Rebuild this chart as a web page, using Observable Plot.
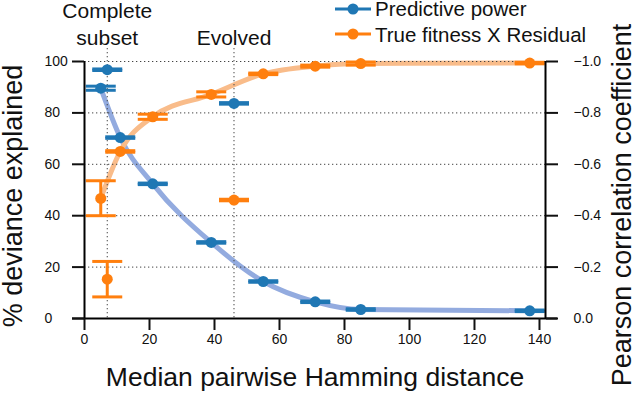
<!DOCTYPE html>
<html><head><meta charset="utf-8">
<script src="https://cdn.jsdelivr.net/npm/d3@7"></script>
<script src="https://cdn.jsdelivr.net/npm/@observablehq/plot@0.6"></script>
<style>
body{margin:0;background:#fff;font-family:"Liberation Sans",Arial,Helvetica,sans-serif;}
#wrap{position:relative;width:635px;height:404px;overflow:hidden;}
#legend{position:absolute;left:334px;top:-4px;font-size:20.5px;color:#111;line-height:25.5px;}
.row{display:flex;align-items:center;height:25.5px;white-space:nowrap;}
.row svg{margin-right:3px;}
</style></head><body><div id="wrap"></div>
<script>
// ---- data ----
const hamming      = [5, 7, 11, 21, 39, 46, 55, 71, 85, 137];
const subsetKind   = ["trend","complete","trend","trend","trend","evolved","trend","trend","trend","trend"];
const powerMean    = [89.6, 96.8, 70.4, 52.4, 29.6, 83.7, 14.4, 6.5, 3.5, 3.0];
const powerLow     = [88.8, 96.5, 70.1, 52.1, 29.3, 83.4, 14.1, 6.2, 3.2, 2.7];
const powerHigh    = [90.4, 97.1, 70.7, 52.7, 29.9, 84.0, 14.7, 6.8, 3.8, 3.3];
const pearsonMean  = [-0.467, -0.153, -0.650, -0.785, -0.872, -0.461, -0.952, -0.982, -0.992, -0.994];
const pearsonLow   = [-0.400, -0.084, -0.647, -0.775, -0.862, -0.458, -0.949, -0.978, -0.986, -0.991];
const pearsonHigh  = [-0.536, -0.222, -0.653, -0.795, -0.882, -0.464, -0.955, -0.986, -0.998, -0.997];
const xTicks        = [0, 20, 40, 60, 80, 100, 120, 140];
const devianceTicks = [0, 20, 40, 60, 80, 100];
const pearsonTicks  = [0.0, -0.2, -0.4, -0.6, -0.8, -1.0];
const markerLines   = [7, 46];
const markerLabels  = ["Complete\nsubset", "Evolved"];
const seriesNames   = ["Predictive power", "True fitness X Residual"];
const seriesColors  = ["#1f77b4", "#ff7f0e"];
const trendColors   = ["#93abdf", "#f9bc8a"];
const xLabel = "Median pairwise Hamming distance";
const yLabel = "% deviance explained";
const y2Label = "Pearson correlation coefficient";

// ---- build tables ----
const power = hamming.map((x, i) => ({x, y: powerMean[i], lo: powerLow[i], hi: powerHigh[i], kind: subsetKind[i]}));
const pearson = hamming.map((x, i) => ({x, y: -pearsonMean[i] * 100, lo: -pearsonLow[i] * 100, hi: -pearsonHigh[i] * 100, kind: subsetKind[i]}));
const xRight = 141.85;

const hline = {draw(ctx, size) { const w = Math.sqrt(size / Math.PI); ctx.moveTo(-w, 0); ctx.lineTo(w, 0); }};

function series(rows, k) {
  return [
    Plot.ruleX(rows, {x: "x", y1: "lo", y2: "hi", stroke: seriesColors[k], strokeWidth: 3}),
    Plot.dot(rows, {x: "x", y: "lo", symbol: hline, r: 15, stroke: seriesColors[k], strokeWidth: 3, fill: "none"}),
    Plot.dot(rows, {x: "x", y: "hi", symbol: hline, r: 15, stroke: seriesColors[k], strokeWidth: 3, fill: "none"}),
    Plot.dot(rows, {x: "x", y: "y", r: 5.5, fill: seriesColors[k], stroke: "none"})
  ];
}

const font = '"Liberation Sans", Arial, Helvetica, sans-serif';
const chart = Plot.plot({
  width: 635, height: 404,
  marginLeft: 84, marginRight: 90, marginTop: 61, marginBottom: 86,
  x: {domain: [0, xRight]},
  y: {domain: [0, 100]},
  style: {fontFamily: font, fontSize: "14px", color: "#111", background: "transparent", overflow: "visible"},
  marks: [
    Plot.line(power.filter(d => d.kind === "trend"), {x: "x", y: "y", stroke: trendColors[0], strokeWidth: 5, curve: "monotone-x"}),
    Plot.line(pearson.filter(d => d.kind === "trend"), {x: "x", y: "y", stroke: trendColors[1], strokeWidth: 5, curve: "monotone-x"}),
    Plot.ruleY(devianceTicks.filter(d => d > 0), {stroke: "#444", strokeWidth: 1, strokeDasharray: "1.3,2.7"}),
    Plot.ruleX(markerLines, {stroke: "#444", strokeWidth: 1, strokeDasharray: "1.3,2.7", insetTop: -13}),
    ...series(power, 0),
    ...series(pearson, 1),
    Plot.ruleX([0, xRight], {stroke: "#000", strokeWidth: 2}),
    Plot.ruleY([0], {stroke: "#000", strokeWidth: 2, insetLeft: -12, insetRight: -12}),
    Plot.axisX(xTicks, {tickSize: 12, tickPadding: 4, strokeWidth: 2, label: null, fontSize: 14}),
    Plot.axisY(devianceTicks, {anchor: "left", tickSize: 12, tickPadding: 28, textAnchor: "start", strokeWidth: 2, label: null, fontSize: 14}),
    Plot.axisY(pearsonTicks.map(t => -t * 100), {anchor: "right", tickSize: 12, tickPadding: 16, strokeWidth: 2, label: null, fontSize: 14,
      tickFormat: d => { const r = -d / 100; return Math.abs(r) < 1e-9 ? "0.0" : "\u2212" + Math.abs(r).toFixed(1); }}),
    Plot.text(markerLines, {x: d => d, text: (d, i) => markerLabels[i], frameAnchor: "top", lineAnchor: "bottom", dy: -17, fontSize: 21, lineHeight: 1.24, fill: "#111"}),
    Plot.text([xLabel], {frameAnchor: "bottom", dy: 67, fontSize: 26.5, fill: "#111"}),
    Plot.text([yLabel], {frameAnchor: "left", textAnchor: "middle", dx: -71, dy: 6, rotate: -90, fontSize: 27, fill: "#111"}),
    Plot.text([y2Label], {frameAnchor: "right", textAnchor: "middle", dx: 77, dy: 15, rotate: -90, fontSize: 27, fill: "#111"})
  ]
});
const wrap = document.getElementById("wrap");
wrap.appendChild(chart);

// ---- legend ----
const legend = document.createElement("div");
legend.id = "legend";
seriesNames.forEach((name, k) => {
  const row = document.createElement("div");
  row.className = "row";
  const ns = "http://www.w3.org/2000/svg";
  const sw = document.createElementNS(ns, "svg");
  sw.setAttribute("width", 38); sw.setAttribute("height", 26);
  const ln = document.createElementNS(ns, "line");
  ln.setAttribute("x1", 1); ln.setAttribute("x2", 37); ln.setAttribute("y1", 13); ln.setAttribute("y2", 13);
  ln.setAttribute("stroke", seriesColors[k]); ln.setAttribute("stroke-width", 3);
  const c = document.createElementNS(ns, "circle");
  c.setAttribute("cx", 19); c.setAttribute("cy", 13); c.setAttribute("r", 5.5); c.setAttribute("fill", seriesColors[k]);
  sw.appendChild(ln); sw.appendChild(c);
  row.appendChild(sw);
  const t = document.createElement("span"); t.textContent = name;
  row.appendChild(t);
  legend.appendChild(row);
});
wrap.appendChild(legend);
</script></body></html>
